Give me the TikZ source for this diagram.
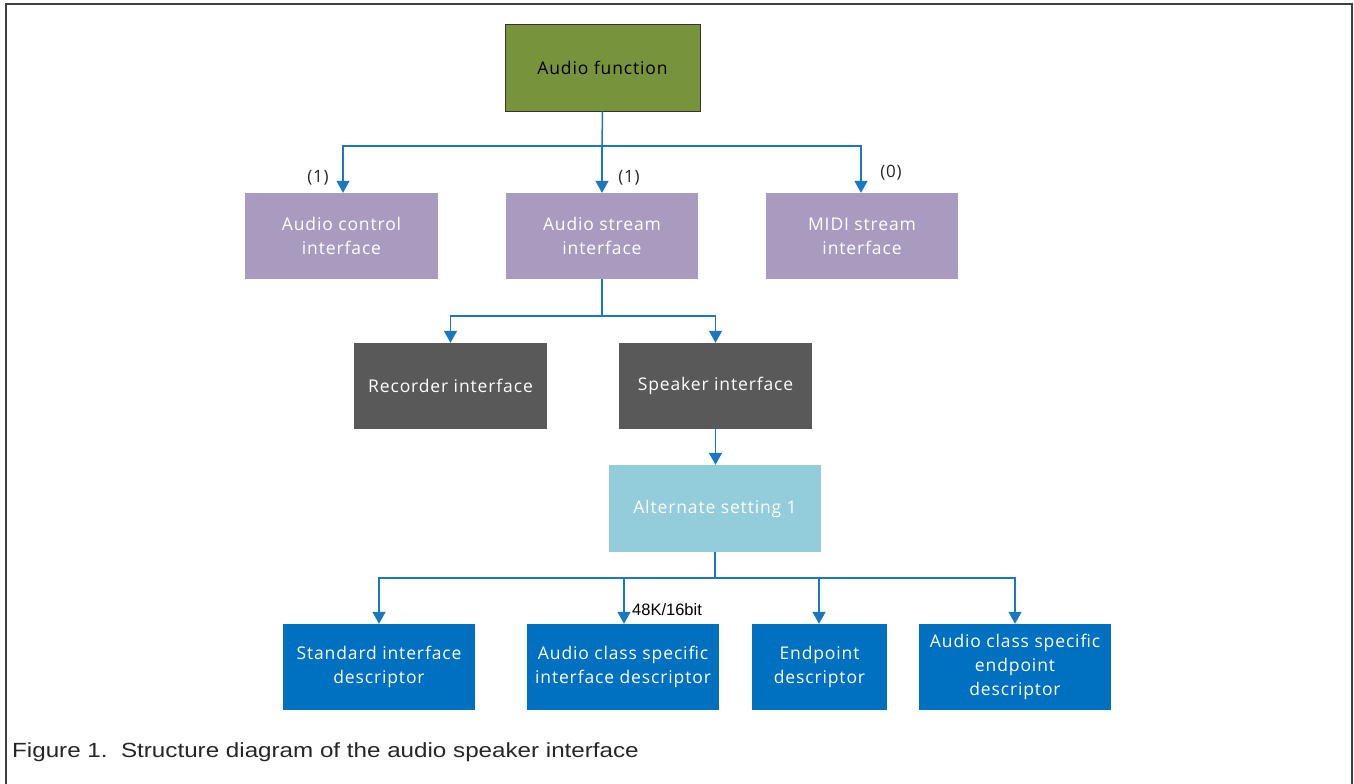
\documentclass[tikz,border=0pt]{standalone}
\usepackage{fontspec}
\setmainfont{Open Sans}[LetterSpace=5]
\newfontfamily\capfont[FakeStretch=1.18]{Liberation Sans}
\newfontfamily\ratefont{Liberation Sans}
\usetikzlibrary{arrows.meta}

\definecolor{funcgreen}{HTML}{77933C}
\definecolor{ifpurple}{HTML}{A99BBF}
\definecolor{altgray}{HTML}{595959}
\definecolor{setblue}{HTML}{93CDDC}
\definecolor{descblue}{HTML}{0070C0}
\definecolor{linkblue}{HTML}{1A78C2}
\definecolor{framegray}{HTML}{404040}

\tikzset{
  box/.style={rectangle, minimum height=86pt, inner sep=2pt, align=center,
    text=white, font=\fontsize{17.5}{24}\selectfont},
  link/.style={linkblue, line width=1.5pt},
  arr/.style={link, -{Triangle[width=13pt,length=12pt]}},
  count/.style={font=\fontsize{17}{20}\selectfont, text=black!85}
}

\begin{document}
\begin{tikzpicture}[x=1pt, y=-1pt]
        \useasboundingbox (0,0) rectangle (1354,784);
        \draw [framegray, line width=2.5pt] (6,790) -- (6,4) -- (1352,4) -- (1352,790);

        % top level
        \node [box, fill=funcgreen, draw=black!80, line width=1pt, text=black, minimum width=195pt] (af) at (602.5,68) {Audio function};

        % interfaces
        \node [box, fill=ifpurple, minimum width=193pt] (aci) at (341.5,236) {Audio control\\interface};
        \node [box, fill=ifpurple, minimum width=192pt] (asi) at (602,236) {Audio stream\\interface};
        \node [box, fill=ifpurple, minimum width=192pt] (midi) at (862,236) {MIDI stream\\interface};

        \coordinate (j1) at (602,146);
        \draw [link] (af.south) -- (j1);
        \draw [arr] (j1) -| ([xshift=1.5pt]aci.north);
        \draw [arr] (j1) -- (asi.north);
        \draw [arr] (j1) -| ([xshift=-1pt]midi.north);
        \node [count] (n1) at (318,178) {(1)};
        \node [count] (n2) at (629,178) {(1)};
        \node [count] (n3) at (891,173) {(0)};

        % alternate interfaces
        \node [box, fill=altgray, minimum width=193pt] (rec) at (450.5,386) {Recorder interface};
        \node [box, fill=altgray, minimum width=193pt] (spk) at (715.5,386) {Speaker interface};

        \coordinate (j2) at (602,316);
        \draw [link] (asi.south) -- (j2);
        \draw [arr] (j2) -| (rec.north);
        \draw [arr] (j2) -| (spk.north);

        \node [box, fill=setblue, minimum width=212pt, minimum height=87pt] (alt) at (715,508.5) {Alternate setting 1};
        \draw [arr] (spk.south) -- ([xshift=0.5pt]alt.north);

        % descriptors
        \node [box, fill=descblue, minimum width=192pt] (sid) at (379,667) {Standard interface\\descriptor};
        \node [box, fill=descblue, minimum width=192pt] (acsid) at (623,667) {Audio class specific\\interface descriptor};
        \node [box, fill=descblue, minimum width=135pt] (epd) at (819.5,667) {Endpoint\\descriptor};
        \node [box, fill=descblue, minimum width=192pt] (acsed) at (1015,667) {Audio class specific\\endpoint\\descriptor};

        \coordinate (j3) at (715,578);
        \draw [link] (alt.south) -- (j3);
        \draw [arr] (j3) -| (sid.north);
        \draw [arr] (j3) -| ([xshift=1pt]acsid.north);
        \draw [arr] (j3) -| ([xshift=-0.5pt]epd.north);
        \draw [arr] (j3) -| (acsed.north);
        \node [font=\ratefont\fontsize{16.5}{18}\selectfont, anchor=west, inner sep=0pt] (rate) at (632,610) {48K/16bit};

        % caption
        \node [font=\capfont\fontsize{20.5}{24}\selectfont, text=black!85, anchor=west, inner sep=0pt] (cap) at (12,752) {Figure 1.\ \ Structure diagram of the audio speaker interface};
\end{tikzpicture}
\end{document}
